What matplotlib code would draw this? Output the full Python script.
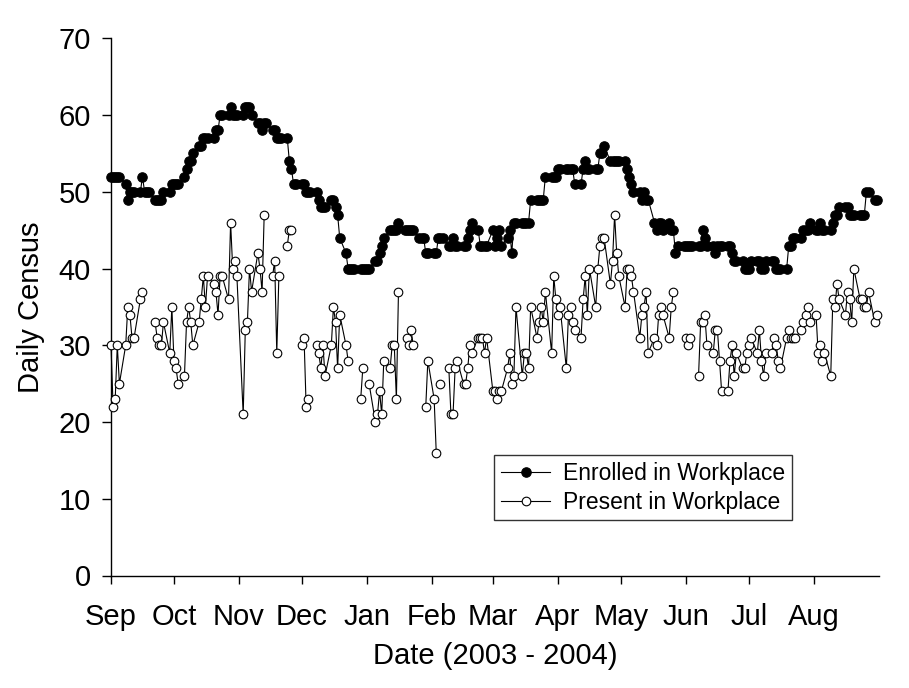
import numpy as np
import pandas as pd
import matplotlib
matplotlib.use("Agg")
import matplotlib.pyplot as plt

nan = np.nan

# ---- data: one value per weekday, 1 Sep 2003 - 31 Aug 2004 (rows = weeks Mon..Fri) ----
enrolled_fall = [
    52, 52, 52, 52, 52,
    51, 49, 50, 50, 50,
    50, 52, 50, 50, 50,
    49, 49, 49, 49, 50,
    50, 51, 51, 51, 51,
    52, 53, 54, 54, 55,
    56, 56, 57, 57, 57,
    57, 58, 58, 60, 60,
    60, 61, 60, 60, 60,
    60, 61, 61, 61, 60,
    59, 59, 58, 59, 59,
    58, 58, 57, 57, 57,
    57, 54, 53, 51, 51,
]
enrolled_winter = [
    51, 51, 50, 50, 50,
    50, 49, 48, 48, 48,
    49, 49, 48, 47, 44,
    42, 40, 40, 40, 40,
    40, 40, 40, 40, 40,
    41, 41, 42, 43, 44,
    45, 45, 45, 45, 46,
    45, 45, 45, 45, 45,
    44, 44, 44, 42, 42,
    42, 42, 44, 44, 44,
    43, 43, 44, 43, 43,
    43, 43, 44, 45, 46,
    45, 43, 43, 43, 43,
]
enrolled_spring = [
    45, 43, 44, 45, 43,
    44, 45, 42, 46, 46,
    46, 46, 46, 46, 49,
    49, 49, 49, 49, 52,
    52, 52, 52, 53, 53,
    53, 53, 53, 53, 51,
    51, 53, 54, 53, 53,
    53, 53, 55, 55, 56,
    54, 54, 54, 54, 54,
    54, 53, 52, 51, 50,
    50, 49, 50, 49, 49,
    46, 45, 46, 46, 45,
    46, 45, 45, 42, 43,
]
enrolled_summer = [
    43, 43, 43, 43, 43,
    43, 43, 45, 44, 43,
    43, 42, 43, 43, 43,
    43, 43, 42, 41, 41,
    41, 40, 40, 40, 41,
    41, 41, 40, 40, 41,
    41, 41, 40, 40, 40,
    40, 43, 43, 44, 44,
    44, 45, 45, 45, 46,
    45, 45, 46, 45, 45,
    45, 46, 47, 47, 48,
    48, 48, 47, 47, 47,
    47, 47, 47, 50, 50,
    49, 49,
]

present_fall = [
    30, 22, 23, 30, 25,
    30, 35, 34, 31, 31,
    36, 37, nan, nan, nan,
    33, 31, 30, 30, 33,
    29, 35, 28, 27, 25,
    26, 33, 35, 33, 30,
    33, 36, 39, 35, 39,
    38, 37, 34, 39, 39,
    36, 46, 40, 41, 39,
    21, 32, 33, 40, 37,
    42, 40, 37, 47, nan,
    39, 41, 29, 39, nan,
    43, 45, 45, nan, nan,
]
present_winter = [
    30, 31, 22, 23, nan,
    30, 29, 27, 30, 26,
    30, 35, 33, 27, 34,
    30, 28, nan, nan, nan,
    23, 27, nan, nan, 25,
    20, 21, 24, 21, 28,
    27, 30, 30, 23, 37,
    nan, 31, 30, 32, 30,
    nan, nan, nan, 22, 28,
    23, 16, nan, 25, nan,
    27, 21, 21, 27, 28,
    25, 25, 27, 30, 29,
    31, 31, 31, 29, 31,
]
present_spring = [
    24, 24, 23, 24, 24,
    27, 29, 25, 26, 35,
    26, 29, 29, 27, 35,
    31, 33, 35, 33, 37,
    29, 39, 36, 34, 35,
    27, 34, 35, 33, 32,
    31, 36, 39, 34, 40,
    35, 40, 43, 44, 44,
    38, 41, 47, 42, 39,
    35, 40, 40, 39, 37,
    31, 34, 35, 37, 29,
    31, 30, 34, 35, 34,
    31, 35, 37, nan, nan,
]
present_summer = [
    nan, 31, 30, 31, nan,
    26, 33, 33, 34, 30,
    29, 32, 32, 28, 24,
    24, 28, 30, 26, 29,
    27, 27, 29, 30, 31,
    29, 32, 28, 26, 29,
    29, 31, 30, 28, 27,
    31, 32, 31, 31, 31,
    32, 33, 34, 35, 33,
    34, 29, 30, 28, 29,
    26, 36, 35, 38, 36,
    34, 37, 36, 33, 40,
    36, 36, 35, 35, 37,
    33, 34,
]

month_labels = ["Sep", "Oct", "Nov", "Dec", "Jan", "Feb", "Mar",
                "Apr", "May", "Jun", "Jul", "Aug"]
series_labels = ["Enrolled in Workplace", "Present in Workplace"]

dates = pd.bdate_range("2003-09-01", "2004-08-31")
enrolled = np.array(enrolled_fall + enrolled_winter + enrolled_spring + enrolled_summer, float)
present = np.array(present_fall + present_winter + present_spring + present_summer, float)

plt.rcParams["font.family"] = ["Liberation Sans", "DejaVu Sans"]

W, H = 909, 688
fig = plt.figure(figsize=(W / 100, H / 100), dpi=100)
left, right, top, bottom = 111, 879, 38.4, 575.5
ax = fig.add_axes([left / W, 1 - bottom / H, (right - left) / W, (bottom - top) / H])

ax.plot(dates, enrolled, "-o", color="black", lw=0.8, ms=6.8,
        mfc="black", mec="black", mew=0.8, clip_on=False, label=series_labels[0], zorder=3)
ax.plot(dates, present, "-o", color="black", lw=0.8, ms=6.2,
        mfc="white", mec="black", mew=0.8, clip_on=False, label=series_labels[1], zorder=4)

ax.set_xlim(pd.Timestamp("2003-09-01"), pd.Timestamp("2004-09-01"))
ax.set_ylim(0, 70)
ticks = pd.date_range("2003-09-01", "2004-08-01", freq="MS")
ax.set_xticks(ticks)
ax.set_xticklabels(month_labels)
ax.set_yticks(range(0, 71, 10))

for s in ["top", "right"]:
    ax.spines[s].set_visible(False)
for s in ["left", "bottom"]:
    ax.spines[s].set_linewidth(1.0)

ax.tick_params(axis="both", direction="out", width=1.0, labelsize=21, colors="black")
ax.tick_params(axis="y", length=6.5, pad=8)
ax.tick_params(axis="x", length=5.5, pad=14)

ax.set_xlabel("Date (2003 - 2004)", fontsize=21, labelpad=8)
ax.set_ylabel("Daily Census", fontsize=21, labelpad=10)

leg = ax.legend(loc="upper left", bbox_to_anchor=((494 - left) / (right - left), (bottom - 455) / (bottom - top)),
                borderaxespad=0, fontsize=16.5, frameon=True, fancybox=False, numpoints=1,
                handlelength=2.15, handletextpad=0.55, labelspacing=0.25, borderpad=0.3)
leg.get_frame().set_edgecolor("black")
leg.get_frame().set_linewidth(1.0)

fig.savefig("out.png", dpi=100)
